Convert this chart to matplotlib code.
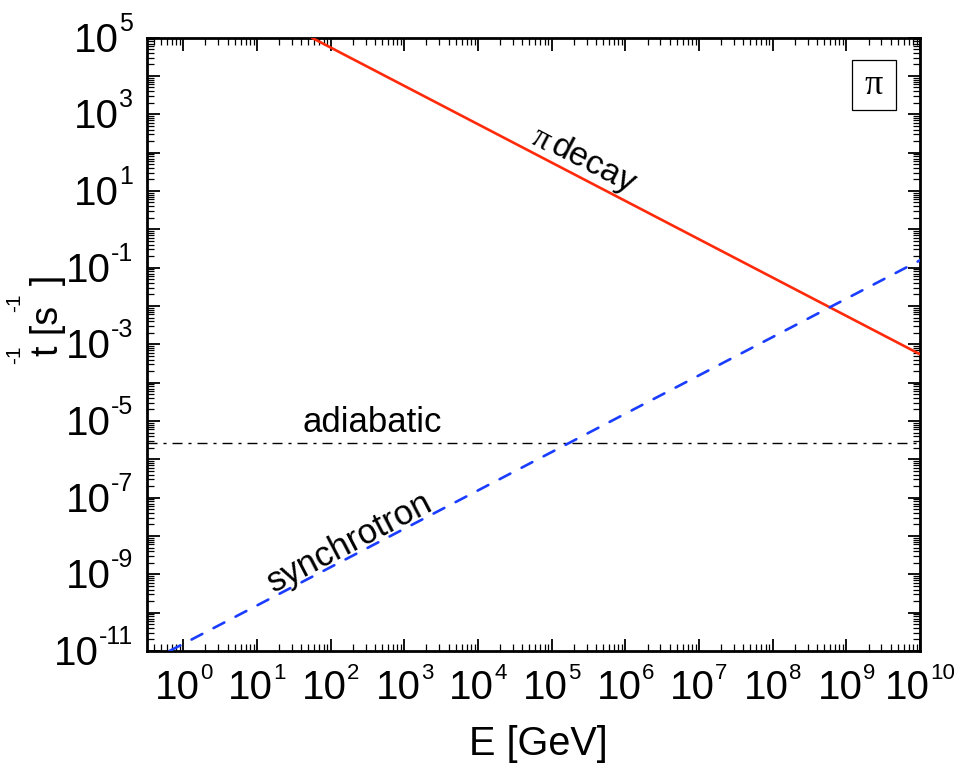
import numpy as np
import matplotlib
matplotlib.use("Agg")
import matplotlib.pyplot as plt
from matplotlib import transforms as mtrans
from matplotlib.patches import Rectangle
from matplotlib.ticker import FixedLocator, LogLocator, NullFormatter

plt.rcParams["font.family"] = ["Liberation Sans", "DejaVu Sans"]

# Loss rates t^-1 [s^-1] versus pion energy E [GeV]
energy_pi_decay = [55.0, 1e10]
rate_pi_decay = [1e5, 5.5e-4]

energy_sync = [0.65, 1e10]
rate_sync = [1e-11, 0.155]

energy_adiab = [0.32, 1e10]
rate_adiab = [2.7e-6, 2.7e-6]

x_tick_exponents = list(range(0, 11))
y_major_exponents = list(range(-11, 6))
y_label_exponents = list(range(-11, 6, 2))

W, H = 962, 768
fig = plt.figure(figsize=(W / 100, H / 100), dpi=100)
left, right, top, bottom = 147, 920, 37.6, 651
ax = fig.add_axes([left / W, 1 - bottom / H, (right - left) / W, (bottom - top) / H])

ax.set_xscale("log")
ax.set_yscale("log")
ax.set_xlim(10 ** -0.493, 1e10)
ax.set_ylim(1e-11, 1e5)

ax.plot(energy_pi_decay, rate_pi_decay, color="#ff2a0a", lw=1.9,
        solid_capstyle="butt", zorder=3)
ax.plot(energy_sync, rate_sync, color="#1a3dff", lw=1.9,
        dashes=(4.6, 4.8), dash_capstyle="round", zorder=3)
ax.plot(energy_adiab, rate_adiab, color="black", lw=1.0,
        dashes=(7.2, 4.3, 2.2, 4.3), zorder=2)

# axes frame and ticks
for sp in ax.spines.values():
    sp.set_linewidth(2.0)
ax.xaxis.set_major_locator(FixedLocator([10.0 ** k for k in x_tick_exponents]))
ax.yaxis.set_major_locator(FixedLocator([10.0 ** k for k in y_major_exponents]))
ax.xaxis.set_minor_locator(LogLocator(base=10, subs=np.arange(2, 10), numticks=200))
ax.yaxis.set_minor_locator(LogLocator(base=10, subs=np.arange(2, 10), numticks=200))
ax.xaxis.set_major_formatter(NullFormatter())
ax.yaxis.set_major_formatter(NullFormatter())
ax.xaxis.set_minor_formatter(NullFormatter())
ax.yaxis.set_minor_formatter(NullFormatter())
ax.tick_params(which="major", direction="in", length=9, width=1.3,
               top=True, right=True)
ax.tick_params(which="minor", direction="in", length=5, width=0.9,
               top=True, right=True)

renderer = fig.canvas.get_renderer()


def text_width(s, size):
    t = fig.text(0, 0, s, fontsize=size)
    w = t.get_window_extent(renderer).width
    t.remove()
    return w


# x tick labels: "10" with raised exponent, centred on the tick
base_size_x, exp_size_x = 29, 16
bx = mtrans.blended_transform_factory(ax.transData, ax.transAxes)
for k in x_tick_exponents:
    wb = text_width("10", base_size_x)
    we = text_width(str(k), exp_size_x)
    dx = (wb - we) / 2
    tb = mtrans.offset_copy(bx, fig=fig, x=dx, y=-48, units="dots")
    te = mtrans.offset_copy(bx, fig=fig, x=dx, y=-48 + 20, units="dots")
    ax.text(10.0 ** k, 0, "10", transform=tb, fontsize=base_size_x,
            ha="right", va="baseline", clip_on=False)
    ax.text(10.0 ** k, 0, str(k), transform=te, fontsize=exp_size_x,
            ha="left", va="baseline", clip_on=False)

# y tick labels: right-aligned next to the axis
base_size_y, exp_size_y = 29, 18
by = mtrans.blended_transform_factory(ax.transAxes, ax.transData)
for k in y_label_exponents:
    we = text_width(str(k), exp_size_y)
    te = mtrans.offset_copy(by, fig=fig, x=-14, y=7, units="dots")
    tb = mtrans.offset_copy(by, fig=fig, x=-14 - we, y=-14, units="dots")
    ax.text(0, 10.0 ** k, str(k), transform=te, fontsize=exp_size_y,
            ha="right", va="baseline", clip_on=False)
    ax.text(0, 10.0 ** k, "10", transform=tb, fontsize=base_size_y,
            ha="right", va="baseline", clip_on=False)

# axis titles
fig.text(538 / W, 1 - 755 / H, "E [GeV]", fontsize=28.5, ha="center",
         va="baseline")
fig.text(58 / W, 1 - 315 / H, "t [s  ]", fontsize=27, rotation=90,
         rotation_mode="anchor", ha="center", va="baseline")
fig.text(20 / W, 1 - 355 / H, "-1", fontsize=15, rotation=90,
         rotation_mode="anchor", ha="center", va="baseline")
fig.text(20 / W, 1 - 303 / H, "-1", fontsize=15, rotation=90,
         rotation_mode="anchor", ha="center", va="baseline")

# curve annotations
ax.text(10 ** 4.85, 10 ** 2.33, "\u03c0", fontsize=24, rotation=-27.5,
        rotation_mode="anchor", ha="center", va="center",
        family=["Liberation Serif", "DejaVu Serif"])
ax.text(10 ** 5.56, 10 ** 1.68, "decay", fontsize=24.5, rotation=-27.5,
        rotation_mode="anchor", ha="center", va="center")
ax.text(10 ** 2.263, 10 ** -8.158, "synchrotron", fontsize=25, rotation=27.5,
        rotation_mode="anchor", ha="center", va="center")
ax.text(10 ** 2.568, 10 ** -5.289, "adiabatic", fontsize=25,
        ha="center", va="baseline")

# particle tag in the corner
ax.add_patch(Rectangle((0.912, 0.882), 0.0569, 0.0815, transform=ax.transAxes,
                       fill=False, ec="black", lw=0.9, zorder=4))
ax.text(0.9405, 0.9227, "\u03c0", transform=ax.transAxes, fontsize=26,
        ha="center", va="center", family=["Liberation Serif", "DejaVu Serif"])

fig.savefig("out.png", dpi=100)
